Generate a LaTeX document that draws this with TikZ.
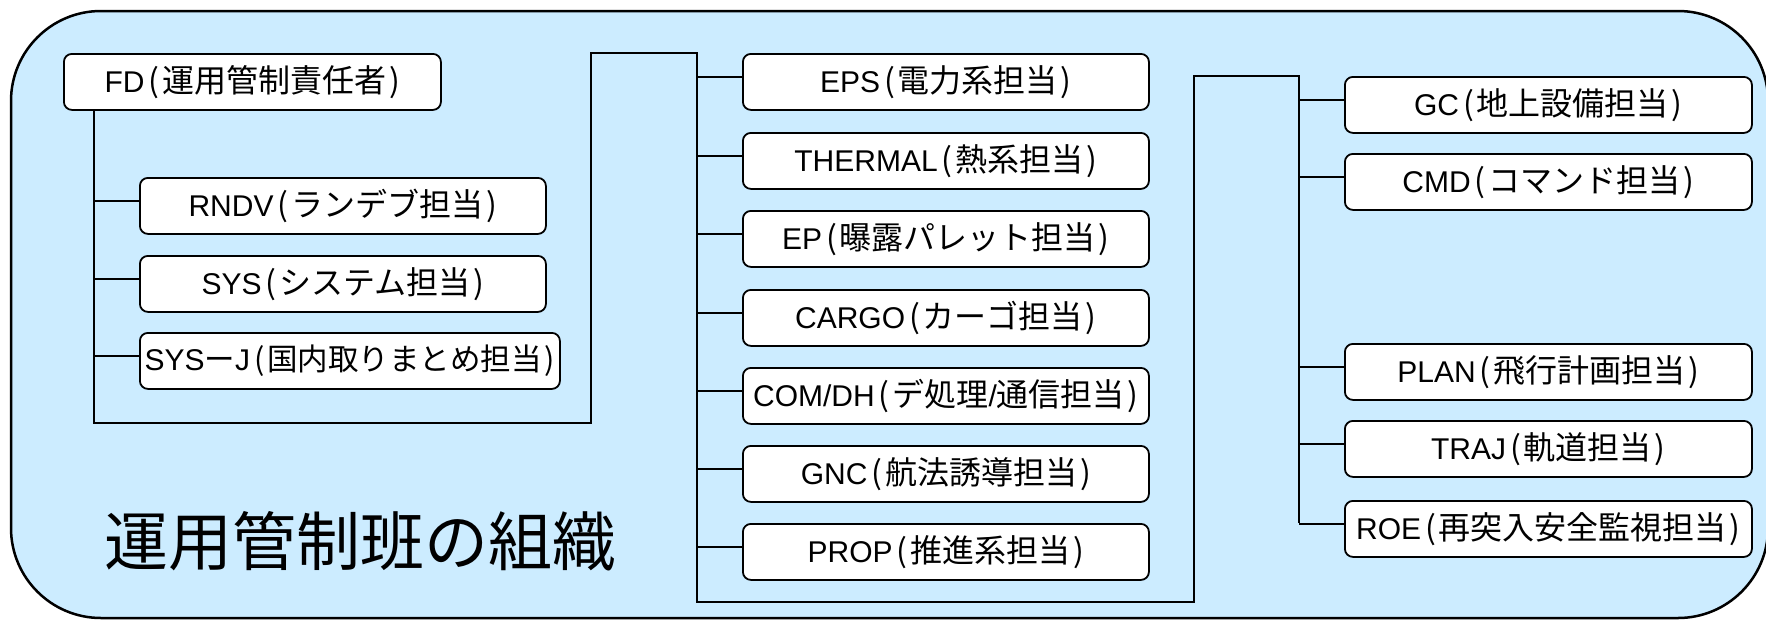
\documentclass[tikz,border=0pt]{standalone}
\usepackage{fontspec}
\setmainfont{Liberation Sans}
\newfontfamily\jpfont{Noto Sans CJK JP}
\newcommand{\jpsize}{32}
\newcommand{\jpn}[1]{{\jpfont\fontsize{\jpsize}{34}\selectfont #1}}
\newcommand{\lpar}{\hspace{4pt}{\jpfont\fontsize{\jpsize}{34}\selectfont(}\hspace{3pt}}
\newcommand{\rpar}{\hspace{3pt}{\jpfont\fontsize{\jpsize}{34}\selectfont)}}
\definecolor{bgblue}{RGB}{204,236,255}
\begin{document}
\begin{tikzpicture}[x=1pt,y=-1pt,
  org/.style={draw=black, line width=1.8pt, rounded corners=8pt, fill=white,
    anchor=north west, inner sep=0pt, minimum height=56pt,
    font=\fontsize{30}{34}\selectfont, align=center},
  link/.style={draw=black, line width=1.5pt},
  outer/.style={draw=black, fill=bgblue, line width=2.5pt, rounded corners=90pt}]
\useasboundingbox (0,0) rectangle (1766,619);
\begin{scope}
\clip (0,0) rectangle (1766,619);
\path[outer] (11,11) rectangle (1768,618);
\end{scope}

% left group
\node[org, minimum width=377pt] (fd) at (63,53) {FD\lpar\jpn{運用管制責任者}\rpar};
\node[org, minimum width=406pt] (rndv) at (139,177) {RNDV\lpar\jpn{ランデブ担当}\rpar};
\node[org, minimum width=406pt] (sys) at (139,255) {SYS\lpar\jpn{システム担当}\rpar};
\node[org, minimum width=420pt] (sysj) at (139,332) {\renewcommand{\jpsize}{30.5}SYS\jpn{ー}J\lpar\jpn{国内取りまとめ担当}\rpar};

% middle group
\node[org, minimum width=406pt] (eps) at (742,53) {EPS\lpar\jpn{電力系担当}\rpar};
\node[org, minimum width=406pt] (thermal) at (742,132) {THERMAL\lpar\jpn{熱系担当}\rpar};
\node[org, minimum width=406pt] (ep) at (742,210) {EP\lpar\jpn{曝露パレット担当}\rpar};
\node[org, minimum width=406pt] (cargo) at (742,289) {CARGO\lpar\jpn{カーゴ担当}\rpar};
\node[org, minimum width=406pt] (comdh) at (742,367) {COM/DH\lpar\jpn{デ処理}/\jpn{通信担当}\rpar};
\node[org, minimum width=406pt] (gnc) at (742,445) {GNC\lpar\jpn{航法誘導担当}\rpar};
\node[org, minimum width=406pt] (prop) at (742,523) {PROP\lpar\jpn{推進系担当}\rpar};

% right group
\node[org, minimum width=407pt] (gc) at (1344,76) {GC\lpar\jpn{地上設備担当}\rpar};
\node[org, minimum width=407pt] (cmd) at (1344,153) {CMD\lpar\jpn{コマンド担当}\rpar};
\node[org, minimum width=407pt] (plan) at (1344,343) {PLAN\lpar\jpn{飛行計画担当}\rpar};
\node[org, minimum width=407pt] (traj) at (1344,420) {TRAJ\lpar\jpn{軌道担当}\rpar};
\node[org, minimum width=407pt] (roe) at (1344,500) {ROE\lpar\jpn{再突入安全監視担当}\rpar};

% title
\node[anchor=base west, inner sep=0pt, font=\jpfont\fontsize{64}{70}\selectfont] (title) at (104,565) {運用管制班の組織};

% trunk
\coordinate (l0) at ([xshift=31pt]fd.south west);
\coordinate (l1) at (94,423);
\coordinate (l2) at (591,423);
\coordinate (l3) at (591,53);
\coordinate (m0) at (697,53);
\coordinate (m1) at (697,602);
\coordinate (m2) at (1194,602);
\coordinate (r0) at (1194,76);
\coordinate (r1) at (1299,76);
\coordinate (r2) at (1299,523);
\draw[link] (l0) -- (l1) -- (l2) -- (l3) -- (m0) -- (m1) -- (m2) -- (r0) -- (r1) -- (r2);

% branches
\foreach \n in {rndv,sys,sysj,eps,thermal,ep,cargo,comdh,gnc,prop,gc,cmd,plan,traj,roe}
  \draw[link] ([yshift=5pt]\n.west) -- ++(-45,0);
\end{tikzpicture}
\end{document}
